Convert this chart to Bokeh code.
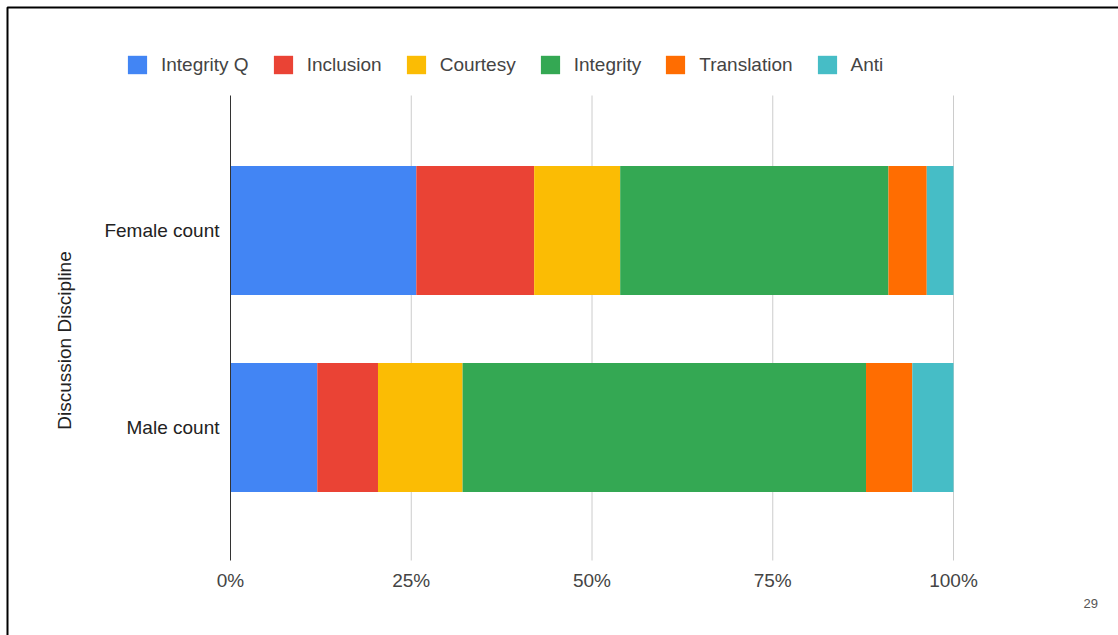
from bokeh.plotting import figure
from bokeh.models import (ColumnDataSource, Range1d, Label, BoxAnnotation,
                          FixedTicker, PrintfTickFormatter)
from bokeh.embed import file_html
from bokeh.resources import INLINE

# ---- data (percent of each group's total) ----
categories = ["Male count", "Female count"]
series = ["Integrity Q", "Inclusion", "Courtesy", "Integrity", "Translation", "Anti"]
integrity_q = [12.0, 25.7]
inclusion = [8.4, 16.3]
courtesy = [11.7, 11.9]
integrity = [55.8, 37.1]
translation = [6.4, 5.3]
anti = [5.7, 3.7]
colors = ["#4285F4", "#EA4335", "#FBBC04", "#34A853", "#FF6D01", "#46BDC6"]
x_ticks = [0, 25, 50, 75, 100]
page_number = "29"

positions = list(range(len(categories)))

source = ColumnDataSource(data={
    "pos": positions,
    "Integrity Q": integrity_q,
    "Inclusion": inclusion,
    "Courtesy": courtesy,
    "Integrity": integrity,
    "Translation": translation,
    "Anti": anti,
})

FONT = "Liberation Sans"
W, H = 1118, 635

# ---- layout: the frame covers the whole slide; axes are pinned inside it ----
X0_PX, X100_PX = 230.0, 953.0          # screen x of 0% and 100%
PXX = (X100_PX - X0_PX) / 100.0         # px per percent
Y_MALE_PX, Y_FEMALE_PX = 427.0, 230.0   # screen y of bar centres
PXY = Y_MALE_PX - Y_FEMALE_PX           # px per category step
x_start = -X0_PX / PXX
x_end = (W - X0_PX) / PXX
y_end = 1 + Y_FEMALE_PX / PXY           # screen y = 0
y_start = y_end - H / PXY               # screen y = H


def sy(px):  # screen y -> data y
    return y_end - px / PXY


def sx(px):  # screen x -> data x
    return (px - X0_PX) / PXX


chart_top, chart_bottom = sy(95), sy(560)

p = figure(width=W, height=H, output_backend="svg", toolbar_location=None,
           x_range=Range1d(x_start, x_end), y_range=Range1d(y_start, y_end),
           min_border=0, min_border_left=0, min_border_right=0,
           min_border_top=0, min_border_bottom=0)
p.outline_line_color = None
p.background_fill_color = "white"
p.border_fill_color = "white"
p.xgrid.visible = False
p.ygrid.visible = False

# grid lines (light) and 0% baseline (dark), limited to the chart area
grid_x = [t for t in x_ticks if t != 0]
p.segment(x0=grid_x, x1=grid_x, y0=[chart_bottom] * len(grid_x),
          y1=[chart_top] * len(grid_x), line_color="#cccccc", line_width=1)

p.hbar_stack(series, y="pos", height=0.655, color=colors, source=source,
             line_color=None, legend_label=series)

p.segment(x0=[0], x1=[0], y0=[chart_bottom], y1=[chart_top],
          line_color="#333333", line_width=1)

# x axis pinned at the chart bottom
p.xaxis.fixed_location = chart_bottom
p.xaxis.bounds = (0, 100)
p.xaxis.ticker = FixedTicker(ticks=x_ticks)
p.xaxis.formatter = PrintfTickFormatter(format="%d%%")
p.xaxis.axis_line_color = None
p.xaxis.major_tick_line_color = None
p.xaxis.minor_tick_line_color = None
p.xaxis.major_tick_out = 0
p.xaxis.major_tick_in = 0
p.xaxis.major_label_standoff = 9
p.xaxis.major_label_text_font = FONT
p.xaxis.major_label_text_font_size = "19px"
p.xaxis.major_label_text_color = "#444444"

# y axis pinned at 0%
p.yaxis.fixed_location = 0
p.yaxis.bounds = (sy(585), chart_top)
p.yaxis.ticker = FixedTicker(ticks=positions)
p.yaxis.major_label_overrides = {i: c for i, c in zip(positions, categories)}
p.yaxis.axis_label = "Discussion Discipline"
p.yaxis.axis_label_text_font = FONT
p.yaxis.axis_label_text_font_size = "19px"
p.yaxis.axis_label_text_font_style = "normal"
p.yaxis.axis_label_text_color = "#222222"
p.yaxis.axis_label_standoff = 26
p.yaxis.axis_line_color = None
p.yaxis.major_tick_line_color = None
p.yaxis.minor_tick_line_color = None
p.yaxis.major_tick_out = 0
p.yaxis.major_tick_in = 0
p.yaxis.major_label_standoff = 11
p.yaxis.major_label_text_font = FONT
p.yaxis.major_label_text_font_size = "19px"
p.yaxis.major_label_text_color = "#222222"

# legend
leg = p.legend[0]
leg.orientation = "horizontal"
leg.location = (125, H - 76)
leg.background_fill_alpha = 0
leg.border_line_color = None
leg.padding = 0
leg.margin = 0
leg.spacing = 22
leg.label_standoff = 12
leg.glyph_width = 24
leg.glyph_height = 23
leg.label_height = 20
leg.label_text_font = FONT
leg.label_text_font_size = "19px"
leg.label_text_color = "#444444"

# page number
p.add_layout(Label(x=sx(1083), y=sy(603), text=page_number, text_font=FONT,
                   text_font_size="13px", text_color="#555555",
                   text_baseline="middle"))

# slide border
p.add_layout(BoxAnnotation(left=sx(7), right=x_end + 50, top=sy(7),
                           bottom=y_start - 50, fill_alpha=0,
                           line_color="black", line_width=2, line_alpha=1))

open("out.html", "w").write(file_html(p, INLINE))
